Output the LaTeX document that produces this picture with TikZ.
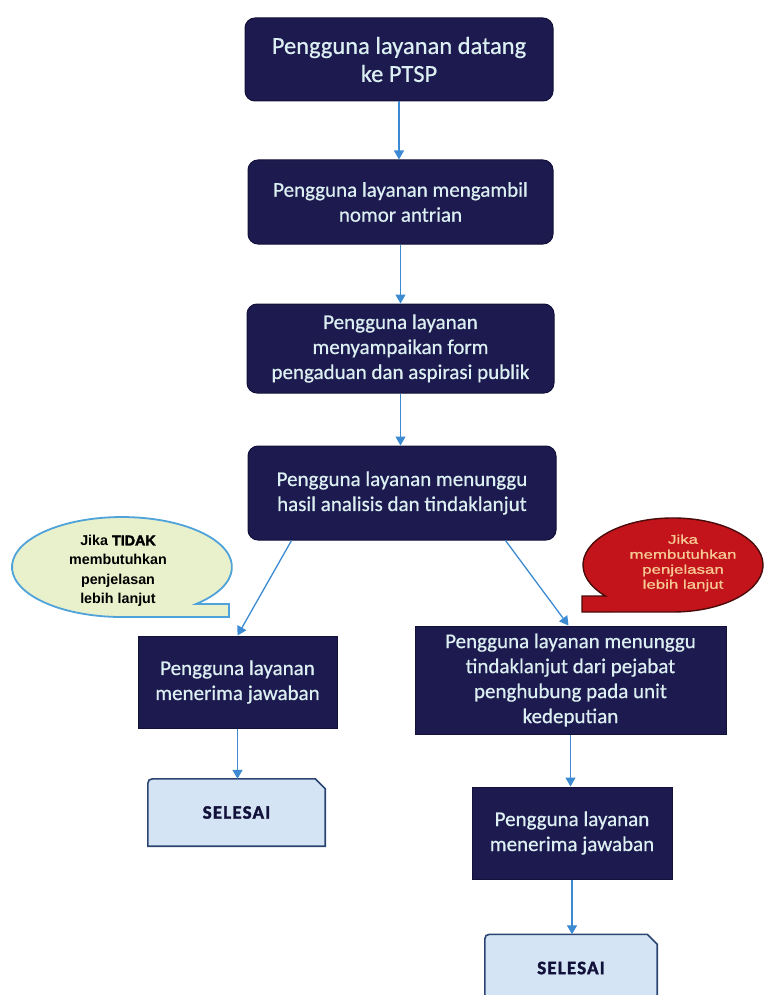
\documentclass[tikz,border=0pt]{standalone}
\usepackage{fontspec}
\setmainfont{Carlito}
\newfontfamily\calloutfont{Liberation Sans}
\newfontfamily\calloutwide[FakeStretch=1.35,FakeBold=1.2]{Liberation Sans}
\newfontfamily\endfont[LetterSpace=6,FakeBold=1.8]{Carlito Bold}
\usetikzlibrary{arrows.meta,backgrounds}

\definecolor{navy}{HTML}{1C1A4E}
\definecolor{navyline}{HTML}{12113A}
\definecolor{boxtext}{HTML}{DCEFF2}
\definecolor{flow}{HTML}{3C8AD2}
\definecolor{endfill}{HTML}{D4E4F5}
\definecolor{endline}{HTML}{2B4472}
\definecolor{paleNote}{HTML}{E9F0CC}
\definecolor{paleNoteLine}{HTML}{4FA3D9}
\definecolor{redNote}{HTML}{C4141B}
\definecolor{redNoteLine}{HTML}{4A0B0B}
\definecolor{redNoteText}{HTML}{F6C994}

\begin{document}
\begin{tikzpicture}[x=1pt,y=-1pt,
  proc/.style={fill=navy,draw=navyline,line width=1pt,text=boxtext,align=center,
    font=\fontsize{21}{25}\selectfont\addfontfeature{FakeBold=0.6},inner sep=0pt},
  roundproc/.style={proc,rounded corners=10pt},
  flowarrow/.style={draw=flow,line width=1.3pt,-{Triangle[length=9pt,width=10pt]}},
  endtext/.style={font=\endfont\fontsize{19}{22}\selectfont,
    text=navyline,minimum width=#1,minimum height=67pt,inner sep=0pt},
  endshape/.style={fill=endfill,draw=endline,line width=1.6pt},
  notepale/.style={fill=paleNote,draw=paleNoteLine,line width=1.8pt},
  notered/.style={fill=redNote,draw=redNoteLine,line width=1.4pt}
]
\useasboundingbox (0,0) rectangle (767,995);
\clip (0,0) rectangle (767,995);

% main column of process steps
\node[roundproc,minimum width=308pt,minimum height=83pt,
  font=\fontsize{24.5}{28}\selectfont\addfontfeature{FakeBold=0.6}]
  (arrive) at (399,59.5) {Pengguna layanan datang\\ke PTSP};
\node[roundproc,minimum width=305pt,minimum height=84pt] (queue) at (400.5,202)
  {Pengguna layanan mengambil\\nomor antrian};
\node[roundproc,minimum width=307pt,minimum height=89pt] (form) at (400.5,348.5)
  {Pengguna layanan\\menyampaikan form\\pengaduan dan aspirasi publik};
\node[roundproc,minimum width=308pt,minimum height=94pt] (wait) at (402,493)
  {Pengguna layanan menunggu\\hasil analisis dan tindaklanjut};

% left branch
\node[proc,minimum width=199pt,minimum height=92pt] (answerL) at (237.5,682)
  {Pengguna layanan\\menerima jawaban};
\node[endtext=177pt] (endL) at (236.5,812.5) {SELESAI};

% right branch
\node[proc,minimum width=311pt,minimum height=108pt] (followR) at (570.5,680)
  {Pengguna layanan menunggu\\tindaklanjut dari pejabat\\penghubung pada unit\\kedeputian};
\node[proc,minimum width=200pt,minimum height=92pt] (answerR) at (572,833)
  {Pengguna layanan\\menerima jawaban};
\node[endtext=172pt] (endR) at (571,968) {SELESAI};

% end terminals: rounded top-left, cut top-right
\begin{scope}[on background layer]
  \foreach \e in {endL,endR}{
    \path[endshape] (\e.south west) -- ([yshift=-10pt]\e.north west)
      .. controls (\e.north west) .. ([xshift=10pt]\e.north west)
      -- ([xshift=-10pt]\e.north east) -- ([yshift=-10pt]\e.north east)
      -- (\e.south east) -- cycle;
  }
\end{scope}

% speech bubbles
\path[notepale] (196,604) arc[start angle=47.7,end angle=-270,x radius=110,y radius=50]
  -- (229,617) -- (229,604) -- cycle;
\node[font=\calloutfont\bfseries\fontsize{14.3}{19.5}\selectfont,align=center,inner sep=0pt]
  (noteNo) at (118,571) {Jika {\addfontfeature{FakeBold=2.5}TIDAK}\\membutuhkan\\penjelasan\\lebih lanjut};

\path[notered] (582,596) -- (605.4,596)
  arc[start angle=138.7,end angle=450,x radius=90,y radius=47]
  -- (582,612) -- cycle;
\node[font=\calloutwide\fontsize{12.5}{15}\selectfont,text=redNoteText,align=center,inner sep=0pt]
  (noteYes) at (683,563) {Jika\\membutuhkan\\penjelasan\\lebih lanjut};

% connectors
\draw[flowarrow] (arrive.south) -- (arrive.south |- queue.north);
\draw[flowarrow] (queue.south) -- (queue.south |- form.north);
\draw[flowarrow] (form.south) -- (form.south |- wait.north);
\draw[flowarrow] ([xshift=44pt]wait.south west) -- (answerL.north);
\draw[flowarrow] ([xshift=-51pt]wait.south east) -- ([xshift=-2pt]followR.north);
\draw[flowarrow] (answerL.south) -- (answerL.south |- endL.north);
\draw[flowarrow] (followR.south) -- (followR.south |- answerR.north);
\draw[flowarrow] (answerR.south) -- (answerR.south |- endR.north);
\end{tikzpicture}
\end{document}
